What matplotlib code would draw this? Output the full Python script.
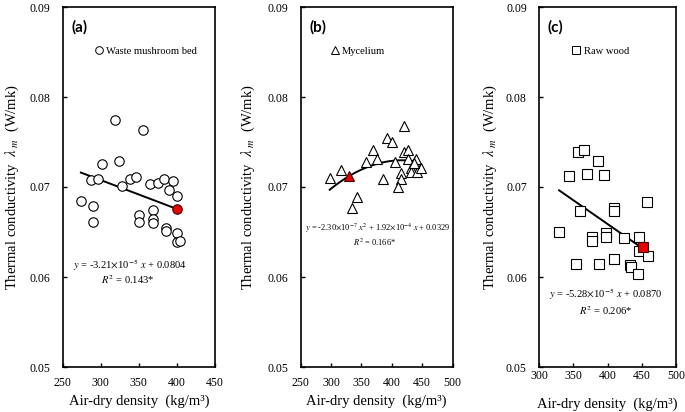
import numpy as np
import matplotlib
matplotlib.use("Agg")
import matplotlib.pyplot as plt
from matplotlib.lines import Line2D

plt.rcParams['font.family'] = ['Liberation Serif', 'DejaVu Serif']
plt.rcParams['mathtext.fontset'] = 'stix'

# ---------------- data ----------------
a_x = [319, 355, 302, 324, 287, 296, 328, 339, 346, 365, 375, 383, 395, 390, 400,
       274, 290, 290, 369, 350, 350, 369, 369, 386, 386, 400, 400, 404]
a_y = [0.0774, 0.0763, 0.0726, 0.0729, 0.0708, 0.0709, 0.0701, 0.0709, 0.0711,
       0.0703, 0.0705, 0.0709, 0.0707, 0.0697, 0.0690, 0.0685, 0.0679, 0.0661,
       0.0675, 0.0669, 0.0661, 0.0665, 0.0660, 0.0654, 0.0651, 0.0649, 0.0639, 0.0640]
a_red = ([400], [0.0676])
a_coef = [-3.21e-5, 0.0804]
a_range = [274, 400]

b_x = [299, 317, 343, 335, 357, 369, 375, 385, 392, 400, 406, 421, 415, 415, 410,
       421, 426, 427, 431, 431, 438, 440, 442, 449, 436]
b_y = [0.0710, 0.0719, 0.0689, 0.0677, 0.0728, 0.0741, 0.0731, 0.0709, 0.0755,
       0.0750, 0.0728, 0.0768, 0.0716, 0.0709, 0.0700, 0.0739, 0.0741, 0.0731,
       0.0721, 0.0717, 0.0729, 0.0731, 0.0717, 0.0721, 0.0727]
b_red = ([330], [0.0712])
b_coef = [-2.30e-7, 1.92e-4, 0.0329]
b_range = [298, 445]

c_x = [357, 366, 386, 344, 370, 394, 359, 409, 409, 457, 329, 377, 377, 398, 398,
       424, 446, 446, 459, 353, 387, 409, 433, 434, 445]
c_y = [0.0739, 0.0741, 0.0729, 0.0712, 0.0714, 0.0713, 0.0673, 0.0677, 0.0673,
       0.0683, 0.0650, 0.0644, 0.0640, 0.0649, 0.0644, 0.0643, 0.0644, 0.0629,
       0.0623, 0.0615, 0.0614, 0.0620, 0.0613, 0.0611, 0.0603]
c_red = ([451], [0.0633])
c_coef = [-5.28e-5, 0.0870]
c_range = [329, 458]

panels = ['(a)', '(b)', '(c)']
names = ['Waste mushroom bed', 'Mycelium', 'Raw wood']
markers = ['o', '^', 's']
xlims = [(250, 450), (250, 500), (300, 500)]
xticks = [[250, 300, 350, 400, 450], [250, 300, 350, 400, 450, 500], [300, 350, 400, 450, 500]]
yticks = [0.05, 0.06, 0.07, 0.08, 0.09]
eqs = [r'$y$ = -3.21$\times$10$^{-5}$ $x$ + 0.0804',
       r'$y$ = -2.30$\times$10$^{-7}$ $x^2$ + 1.92$\times$10$^{-4}$ $x$ + 0.0329',
       r'$y$ = -5.28$\times$10$^{-5}$ $x$ + 0.0870']
r2s = [r'$R^2$ = 0.143*', r'$R^2$ = 0.166*', r'$R^2$ = 0.206*']

# ---------------- layout ----------------
W, H = 685, 412
boxes = [(62.6, 215.0), (300.5, 452.5), (539.3, 676.0)]
top_px, bot_px = 7, 367
eq_pos = [((0.442, 0.283), (0.425, 0.244)),
          ((0.507, 0.386), (0.485, 0.347)),
          ((0.487, 0.203), (0.487, 0.158))]
eq_size = [7.6, 6.0, 7.6]
leg_anchor = [0.209, 0.196, 0.241]
ylab_x = [-0.27, -0.286, -0.294]
xlab_y = [-0.077, -0.077, -0.086]
xtick_pad = [7, 7, 2.5]

fig = plt.figure(figsize=(6.85, 4.12), dpi=100)

data = [(a_x, a_y, a_red, a_coef, a_range),
        (b_x, b_y, b_red, b_coef, b_range),
        (c_x, c_y, c_red, c_coef, c_range)]

for i, (xs, ys, red, coef, rng) in enumerate(data):
    l, r = boxes[i]
    ax = fig.add_axes([l / W, 1 - bot_px / H, (r - l) / W, (bot_px - top_px) / H])
    ms = {'o': 6.8, '^': 7.4, 's': 6.6}[markers[i]]
    ax.plot(xs, ys, linestyle='none', marker=markers[i], ms=ms, mfc='white',
            mec='black', mew=0.8, zorder=3)
    xx = np.linspace(rng[0], rng[1], 100)
    ax.plot(xx, np.polyval(coef, xx), color='black', lw=1.4, zorder=2)
    ax.plot(red[0], red[1], linestyle='none', marker=markers[i], ms=ms, mfc='#e60000',
            mec='#400000', mew=0.8, zorder=4)

    ax.set_xlim(*xlims[i])
    ax.set_ylim(0.05, 0.09)
    ax.set_xticks(xticks[i])
    ax.set_yticks(yticks)
    ax.set_yticklabels([f'{v:.2f}' for v in yticks])
    ax.tick_params(direction='in', length=3, width=1, labelsize=8.5)
    ax.tick_params(axis='y', pad=9)
    ax.tick_params(axis='x', pad=xtick_pad[i])
    for s in ax.spines.values():
        s.set_linewidth(1.2)
        s.set_color('black')

    ax.set_ylabel(r'Thermal conductivity  $\lambda_{\ m}$  (W/mk)', fontsize=10.5)
    ax.yaxis.set_label_coords(ylab_x[i], 0.5)
    ax.set_xlabel('Air-dry density  (kg/m³)', fontsize=10.5)
    ax.xaxis.set_label_coords(0.5, xlab_y[i])

    ax.text(0.06, 0.944, panels[i], transform=ax.transAxes, fontsize=11,
            fontweight='bold', family='Lato', va='center', ha='left')

    h = Line2D([], [], linestyle='none', marker=markers[i], ms=5.5, mfc='white',
               mec='black', mew=0.7)
    ax.legend([h], [names[i]], loc='center left', bbox_to_anchor=(leg_anchor[i], 0.878),
              frameon=False, handlelength=0.8, handletextpad=0.3, borderpad=0,
              borderaxespad=0, prop={'size': 7.6})

    (ex, ey), (rx, ry) = eq_pos[i]
    ax.text(ex, ey, eqs[i], transform=ax.transAxes, fontsize=eq_size[i],
            ha='center', va='center')
    ax.text(rx, ry, r2s[i], transform=ax.transAxes, fontsize=eq_size[i],
            ha='center', va='center')

fig.savefig('out.png', dpi=100)
